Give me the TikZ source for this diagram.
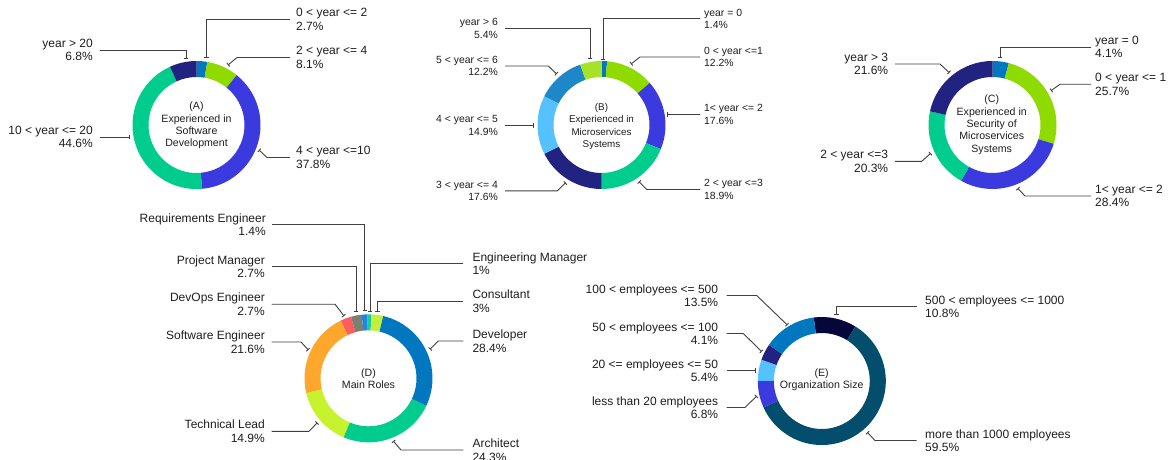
\documentclass[tikz,border=0pt]{standalone}
\usepackage{fontspec}
\setmainfont{Liberation Sans}
\usetikzlibrary{arrows.meta,calc}

\definecolor{cBlue}{RGB}{0,119,190}
\definecolor{cLime}{RGB}{143,219,0}
\definecolor{cViolet}{RGB}{58,58,222}
\definecolor{cGreen}{RGB}{0,204,142}
\definecolor{cNavy}{RGB}{34,34,128}
\definecolor{cLight}{RGB}{85,193,255}
\definecolor{cMid}{RGB}{30,135,200}
\definecolor{cYL}{RGB}{165,226,40}
\definecolor{cTeal}{RGB}{20,204,160}
\definecolor{cCons}{RGB}{196,238,60}
\definecolor{cReq}{RGB}{30,136,220}
\definecolor{cGray}{RGB}{125,127,112}
\definecolor{cCoral}{RGB}{255,92,92}
\definecolor{cTech}{RGB}{198,242,46}
\definecolor{cOrange}{RGB}{255,166,44}
\definecolor{cDark}{RGB}{7,6,58}
\definecolor{cDeep}{RGB}{2,78,108}
\definecolor{leadc}{RGB}{64,64,64}
\definecolor{txtc}{RGB}{30,30,30}

\tikzset{
  leader/.style={draw=leadc, line width=0.9pt, -{Bar[width=4.5pt,line width=0.9pt]}},
  lbl/.style={font=\fontsize{12}{13.5}\selectfont, inner sep=0pt, text=txtc},
  lblB/.style={font=\fontsize{10.4}{12.5}\selectfont, inner sep=0pt, text=txtc},
  ctr/.style={font=\fontsize{10.6}{12.4}\selectfont, align=center, inner sep=0pt, text=txtc},
  ctrB/.style={font=\fontsize{9.8}{12.3}\selectfont, align=center, inner sep=0pt, text=txtc},
}

% ring: name, center, start offset (percent), total, list pct/colour
\newcommand\donut[5]{%
  \coordinate (#1) at (#2);%
  \xdef\dnCum{#3}%
  \pgfmathsetmacro\dnK{360/#4}%
  \foreach \p/\c in {#5} {%
    \pgfmathsetmacro\dnA{90-\dnK*\dnCum}%
    \pgfmathsetmacro\dnB{90-\dnK*(\dnCum+\p)}%
    \fill[\c] ($(#1)+(\dnA:64pt)$) arc[start angle=\dnA, end angle=\dnB, radius=64pt]
      -- ($(#1)+(\dnB:48pt)$) arc[start angle=\dnB, end angle=\dnA, radius=48pt] -- cycle;
    \pgfmathsetmacro\dnN{\dnCum+\p}%
    \global\let\dnCum\dnN
  }%
}
% label on the right: name, text x, y, text, line start x, elbow x, tip x, tip y, style
\newcommand\lR[9]{%
  \node[#9, anchor=west, align=left] (#1) at (#2,#3) {#4};
  \coordinate (#1e) at (#6,#3);
  \coordinate (#1t) at (#7,#8);
  \draw[leader] ([xshift={(#5)-(#2)}]#1.west) -- (#1e) -- (#1t);
}
% label on the left
\newcommand\lL[9]{%
  \node[#9, anchor=east, align=right] (#1) at (#2,#3) {#4};
  \coordinate (#1e) at (#6,#3);
  \coordinate (#1t) at (#7,#8);
  \draw[leader] ([xshift={(#5)-(#2)}]#1.east) -- (#1e) -- (#1t);
}

\begin{document}
\begin{tikzpicture}[x=1pt,y=-1pt]
\useasboundingbox[fill=white] (0,0) rectangle (1169,460);

% ---------------- (A)
\donut{cA}{196.5,125}{0}{100}{2.7/cBlue,8.1/cLime,37.8/cViolet,44.6/cGreen,6.8/cNavy}
\node[ctr] (tA) at (196.5,125.5) {(A)\\Experienced in\\Software\\Development};
\lR{a1}{296}{19.5}{0 < year <= 2\\2.7\%}{290}{206.5}{206.5}{58}{lbl}
\lR{a2}{296}{57.5}{2 < year <= 4\\8.1\%}{290}{237}{228}{65}{lbl}
\lR{a3}{296}{157.5}{4 < year <=10\\37.8\%}{290}{267}{259}{150}{lbl}
\lL{a4}{93}{50}{year > 20\\6.8\%}{100}{186}{186}{59}{lbl}
\lL{a5}{93}{137}{10 < year <= 20\\44.6\%}{100}{100}{130}{137}{lbl}

% ---------------- (B)
\donut{cB}{601.5,125}{0}{100.2}{1.4/cBlue,12.2/cLime,17.6/cViolet,18.9/cGreen,17.6/cNavy,14.9/cLight,12.2/cMid,5.4/cYL}
\node[ctrB] (tB) at (601.5,126.5) {(B)\\Experienced in\\Microservices\\Systems};
\lR{b1}{704}{18.8}{year = 0\\1.4\%}{700}{603}{603}{59.5}{lblB}
\lR{b2}{704}{57}{0 < year <=1\\12.2\%}{700}{640}{631}{64}{lblB}
\lR{b3}{704}{114.3}{1< year <= 2\\17.6\%}{700}{700}{667}{114.3}{lblB}
\lR{b4}{704}{189.5}{2 < year <=3\\18.9\%}{700}{646.7}{639}{181.7}{lblB}
\lL{b5}{498}{28.5}{year > 6\\5.4\%}{505}{590}{590}{59.3}{lblB}
\lL{b6}{498}{66}{5 < year <= 6\\12.2\%}{505}{548.3}{556.7}{74}{lblB}
\lL{b7}{498}{125.7}{4 < year <= 5\\14.9\%}{505}{505}{534.3}{125.7}{lblB}
\lL{b8}{498}{190.8}{3 < year <= 4\\17.6\%}{505}{557.3}{565.7}{182.7}{lblB}

% ---------------- (C)
\donut{cC}{992.5,125}{0}{100.1}{4.1/cBlue,25.7/cLime,28.4/cViolet,20.3/cGreen,21.6/cNavy}
\node[ctr] (tC) at (991.7,124.7) {(C)\\Experienced in\\Security of\\Microservices\\Systems};
\lR{c1}{1095}{47}{year = 0\\4.1\%}{1091}{1000}{1000}{58.3}{lbl}
\lR{c2}{1095}{84.2}{0 < year <= 1\\25.7\%}{1091}{1060}{1051}{90.7}{lbl}
\lR{c3}{1095}{196}{1< year <= 2\\28.4\%}{1091}{1025}{1017.7}{188.3}{lbl}
\lL{c4}{888.3}{64}{year > 3\\21.6\%}{895}{940}{949.3}{72.7}{lbl}
\lL{c5}{888.3}{161.3}{2 < year <=3\\20.3\%}{895}{921.7}{930.7}{153.3}{lbl}

% ---------------- (D)
\donut{cD}{368.5,378.3}{-0.3}{100}{1/cTeal,3/cCons,28.4/cBlue,24.3/cGreen,14.9/cTech,21.6/cOrange,2.7/cCoral,2.7/cGray,1.4/cReq}
\node[ctr] (tD) at (368.5,378.8) {(D)\\Main Roles};
\lL{d1}{266}{224.5}{Requirements Engineer\\1.4\%}{272}{364.8}{364.8}{311}{lbl}
\lL{d2}{265}{266.8}{Project Manager\\2.7\%}{271.7}{356}{356}{312}{lbl}
\lL{d3}{265}{304.2}{DevOps Engineer\\2.7\%}{271.7}{335}{344}{316}{lbl}
\lL{d4}{265}{342}{Software Engineer\\21.6\%}{271.7}{301}{308.3}{350}{lbl}
\lL{d5}{265}{431.3}{Technical Lead\\14.9\%}{271.7}{309}{317.3}{422.7}{lbl}
\lR{d6}{472.3}{263.7}{Engineering Manager\\1\%}{463.3}{370}{370}{311.5}{lbl}
\lR{d7}{472.3}{301}{Consultant\\3\%}{463.3}{377.7}{377.7}{311.7}{lbl}
\lR{d8}{472.3}{341}{Developer\\28.4\%}{463.3}{438.3}{430}{349.3}{lbl}
\lR{d9}{472.3}{450}{Architect\\24.3\%}{463.3}{401}{393.3}{441}{lbl}

% ---------------- (E)
\donut{cE}{821.8,381}{-2}{100.1}{10.8/cDark,59.5/cDeep,6.8/cViolet,5.4/cLight,4.1/cNavy,13.5/cBlue}
\node[ctr] (tE) at (821.7,380) {(E)\\Organization Size};
\lR{e1}{925}{306.8}{500 < employees <= 1000\\10.8\%}{916.7}{836.7}{836.7}{315}{lbl}
\lR{e2}{925}{440.5}{more than 1000 employees\\59.5\%}{916.7}{875}{867.3}{432.3}{lbl}
\lL{e3}{718.3}{295.5}{100 < employees <= 500\\13.5\%}{726.7}{756.7}{787.3}{325}{lbl}
\lL{e4}{718.3}{333.5}{50 < employees <= 100\\4.1\%}{726.7}{743.3}{761.7}{351.7}{lbl}
\lL{e5}{718.3}{370.5}{20 <= employees <= 50\\5.4\%}{726.7}{726.7}{756}{370.5}{lbl}
\lL{e6}{718.3}{407.5}{less than 20 employees\\6.8\%}{726.7}{745}{756.7}{396}{lbl}
\end{tikzpicture}
\end{document}
